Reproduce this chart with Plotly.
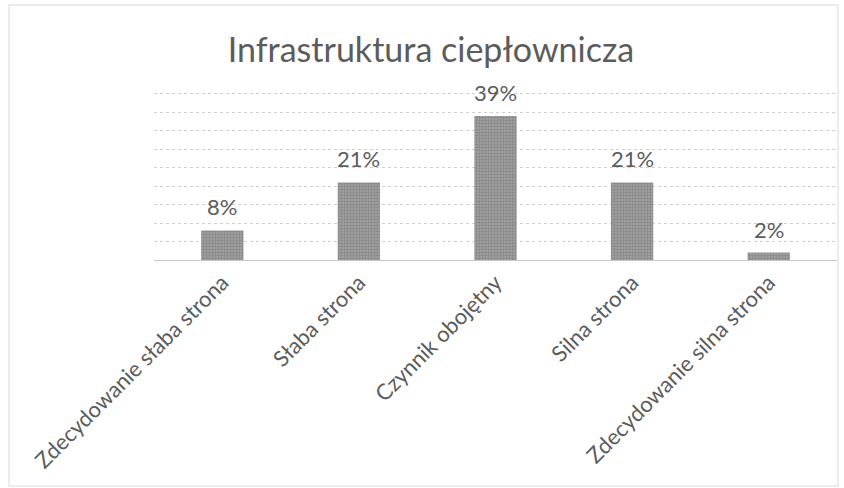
import plotly.graph_objects as go

categories = [
    "Zdecydowanie słaba strona",
    "Słaba strona",
    "Czynnik obojętny",
    "Silna strona",
    "Zdecydowanie silna strona",
]
values = [8, 21, 39, 21, 2]
labels = [f"{v}%" for v in values]

W, H = 844, 488
Y_MAX = 45.5
L, R, T, B = 154, 7, 92, 228
plot_w = W - L - R
plot_h = H - T - B

FONT = "Lato, Open Sans, sans-serif"
TEXT_GREY = "#5c5c5c"


def px_x(px):
    return (px - L) / plot_w


def px_y(py):
    return (H - B - py) / plot_h


fig = go.Figure(
    go.Bar(
        x=categories,
        y=values,
        marker=dict(
            color="#a6a6a6",
            line=dict(width=0),
            pattern=dict(shape=".", fgcolor="#6a6a6a", bgcolor="#a4a4a4", size=3, solidity=0.5),
        ),
        hoverinfo="skip",
    )
)

# value labels above each bar
for cat, val, lab in zip(categories, values, labels):
    fig.add_annotation(
        x=cat,
        y=val,
        text=lab,
        showarrow=False,
        yanchor="bottom",
        yshift=8,
        font=dict(family=FONT, size=22, color=TEXT_GREY),
    )

fig.update_layout(
    width=W,
    height=H,
    margin=dict(l=L, r=R, t=T, b=B),
    paper_bgcolor="white",
    plot_bgcolor="white",
    bargap=0.69,
    showlegend=False,
    title=dict(
        text="Infrastruktura ciepłownicza",
        x=431 / W,
        xanchor="center",
        xref="container",
        y=1 - 50 / H,
        yanchor="middle",
        yref="container",
        font=dict(family=FONT, size=34, color=TEXT_GREY),
    ),
    xaxis=dict(
        showgrid=False,
        showline=True,
        linecolor="#c8c8c8",
        linewidth=1,
        ticks="",
        tickangle=-45,
        tickfont=dict(family=FONT, size=22, color=TEXT_GREY),
    ),
    yaxis=dict(
        range=[0, Y_MAX],
        dtick=5,
        showgrid=True,
        gridcolor="#cfcfcf",
        griddash="dot",
        gridwidth=1,
        showticklabels=False,
        zeroline=False,
        showline=False,
    ),
    shapes=[
        dict(
            type="rect",
            xref="paper",
            yref="paper",
            x0=px_x(9),
            x1=px_x(838),
            y0=px_y(486),
            y1=px_y(5),
            line=dict(color="#d9d9d9", width=1),
            fillcolor="rgba(0,0,0,0)",
            layer="below",
        )
    ],
)

fig.write_html("out.html")
